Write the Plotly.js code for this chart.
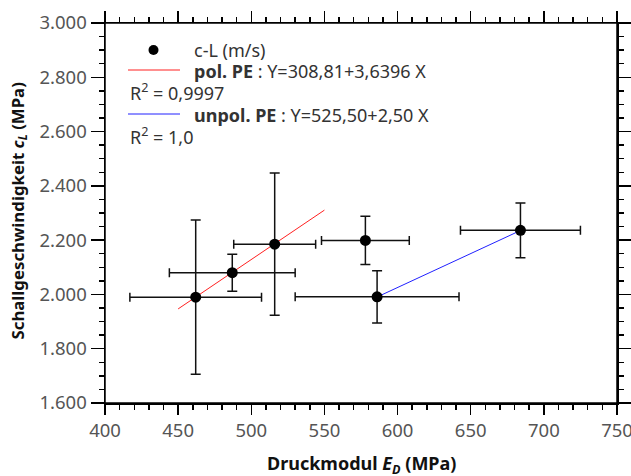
<!DOCTYPE html>
<html>
<head>
<meta charset="utf-8">
<script src="https://cdn.plot.ly/plotly-3.0.1.min.js"></script>
<style>html,body{margin:0;padding:0;background:#fff;}#chart{width:631px;height:476px;}</style>
</head>
<body>
<div id="chart"></div>
<script>
// Data
const druckmodul = [462, 487, 516, 578, 586, 684];          // E_D (MPa)
const schall = [1990, 2080, 2185, 2199, 1991, 2236];        // c_L
const druckmodulErr = [45, 43, 28, 30, 56, 41];
const schallErr = [284, 68, 262, 89, 96, 101];

// Fit lines (end points as drawn)
const polX = [450, 550];
const polY = [1946.6, 2310.6];
const unpolX = [586, 684];
const unpolY = [1990.5, 2235.5];

const legendTexts = [
  'c-L (m/s)',
  '<b>pol. PE</b> : Y=308,81+3,6396 X',
  'R<sup>2</sup> = 0,9997',
  '<b>unpol. PE</b> : Y=525,50+2,50 X',
  'R<sup>2</sup> = 1,0'
];

const FONT = 'Noto Sans, Open Sans, DejaVu Sans, sans-serif';

// plot area in pixels
const L = 105, R = 617, T = 23, B = 403;
const px = v => (v - L) / (R - L);
const py = v => (B - v) / (B - T);

const traces = [
  {
    x: polX, y: polY, mode: 'lines', type: 'scatter',
    line: {color: '#ff2020', width: 1}, hoverinfo: 'skip', showlegend: false
  },
  {
    x: unpolX, y: unpolY, mode: 'lines', type: 'scatter',
    line: {color: '#2020ff', width: 1}, hoverinfo: 'skip', showlegend: false
  },
  {
    x: druckmodul, y: schall, mode: 'markers', type: 'scatter',
    marker: {color: '#000', size: 11},
    error_x: {type: 'data', array: druckmodulErr, visible: true, color: '#111', thickness: 1.5, width: 4.5},
    error_y: {type: 'data', array: schallErr, visible: true, color: '#111', thickness: 1.5, width: 5},
    showlegend: false
  }
];

const ext = 11;
const lineStyle = {color: '#000', width: 1.5};
const shapes = [
  // extended axis lines (Origin style)
  {type: 'line', xref: 'paper', yref: 'paper', x0: px(L - ext), x1: px(R + ext), y0: 0, y1: 0, line: lineStyle},
  {type: 'line', xref: 'paper', yref: 'paper', x0: px(L - ext), x1: px(R + ext), y0: 1, y1: 1, line: lineStyle},
  {type: 'line', xref: 'paper', yref: 'paper', x0: 0, x1: 0, y0: py(B + ext), y1: py(T - ext), line: lineStyle},
  {type: 'line', xref: 'paper', yref: 'paper', x0: 1, x1: 1, y0: py(B + ext), y1: py(T - ext), line: lineStyle},
  // legend samples
  {type: 'circle', xref: 'paper', yref: 'paper', xsizemode: 'pixel', ysizemode: 'pixel',
   xanchor: px(153.5), yanchor: py(50), x0: -5, x1: 5, y0: -5, y1: 5,
   fillcolor: '#000', line: {color: '#000', width: 0}},
  {type: 'line', xref: 'paper', yref: 'paper', x0: px(128), x1: px(180), y0: py(70), y1: py(70), line: {color: '#ff2020', width: 1}},
  {type: 'line', xref: 'paper', yref: 'paper', x0: px(128), x1: px(180), y0: py(114), y1: py(114), line: {color: '#2020ff', width: 1}}
];

const legRows = [
  {x: 191.5, y: 50},
  {x: 191.5, y: 71},
  {x: 128, y: 92},
  {x: 191.5, y: 115},
  {x: 128, y: 136}
];

const annotations = legendTexts.map((t, i) => ({
  text: t, xref: 'paper', yref: 'paper', x: px(legRows[i].x), y: py(legRows[i].y),
  xanchor: 'left', yanchor: 'middle', showarrow: false,
  font: {family: FONT, size: 18, color: '#333'}
}));

annotations.push({
  text: '<b>Druckmodul <i>E<sub>D</sub></i> (MPa)</b>',
  xref: 'paper', yref: 'paper', x: 0.5, y: py(464), xanchor: 'center', yanchor: 'middle',
  showarrow: false, font: {family: FONT, size: 18, color: '#111'}
});
annotations.push({
  text: '<b>Schallgeschwindigkeit <i>c<sub>L</sub></i> (MPa)</b>',
  xref: 'paper', yref: 'paper', x: px(18), y: py(210.5), xanchor: 'center', yanchor: 'middle',
  textangle: -90, showarrow: false, font: {family: FONT, size: 16.8, color: '#111'}
});

const axisCommon = {
  showline: true, linecolor: '#000', linewidth: 1.5, mirror: 'ticks',
  ticks: 'outside', tickwidth: 1.5, tickcolor: '#000',
  showgrid: false, zeroline: false, fixedrange: true, ticklabeloverflow: 'allow',
  tickfont: {family: FONT, size: 18.5, color: '#555'}
};

const layout = {
  width: 631, height: 476,
  margin: {l: L, r: 631 - R, t: T, b: 476 - B, pad: 0},
  paper_bgcolor: '#fff', plot_bgcolor: '#fff',
  separators: ',.',
  showlegend: false,
  xaxis: Object.assign({}, axisCommon, {
    range: [400, 750], dtick: 50, tick0: 400, ticklen: 10.5,
    minor: {dtick: 10, ticklen: 5, tickwidth: 1.5, tickcolor: '#000', ticks: 'outside', showgrid: false}
  }),
  yaxis: Object.assign({}, axisCommon, {
    range: [1600, 3000], dtick: 200, tick0: 1600, tickformat: ',.0f', ticklen: 13,
    minor: {dtick: 50, ticklen: 5, tickwidth: 1.5, tickcolor: '#000', ticks: 'outside', showgrid: false}
  }),
  shapes: shapes,
  annotations: annotations
};

Plotly.newPlot('chart', traces, layout, {displayModeBar: false, staticPlot: true});
</script>
</body>
</html>
